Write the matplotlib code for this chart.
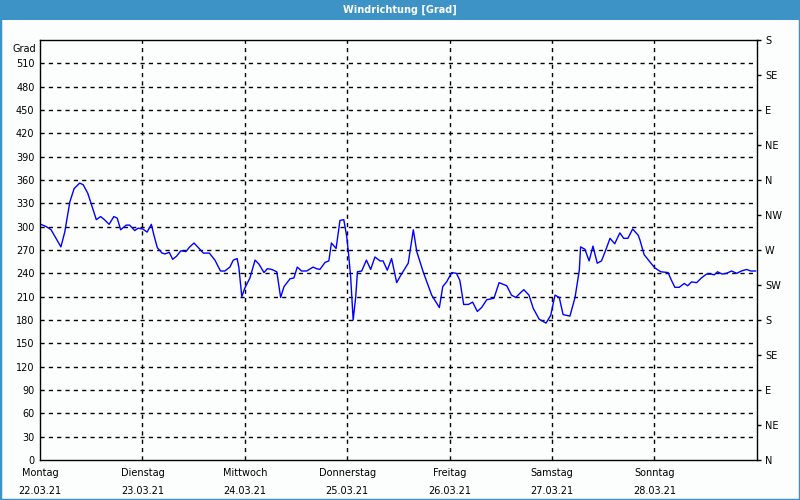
import numpy as np
import matplotlib
matplotlib.use("Agg")
import matplotlib.pyplot as plt
from matplotlib.patches import Rectangle

# ============================================
# DATA: wind direction, hours since Mon 22.03.21 00:00
# ============================================

hours = [0.2, 1.5, 2.6, 4.9, 5.8, 7.0, 8.0, 9.3, 10.1, 11.2, 13.2, 14.2, 15.1, 16.2,
         17.3, 18.1, 18.9, 20.2, 21.0, 22.2, 23.0, 24.1, 25.1, 26.1, 26.7, 27.5, 28.6,
         29.3, 30.3, 31.1, 32.0, 33.0, 34.2, 35.1, 36.1, 37.3, 38.3, 39.7, 41.0, 42.3,
         43.3, 44.5, 45.3, 46.2, 46.6, 47.3, 48.0, 49.2, 50.4, 51.3, 52.5, 53.3, 54.3,
         55.5, 56.4, 57.2, 58.6, 59.5, 60.3, 61.3, 62.5, 64.0, 64.8, 65.6, 66.8, 67.7,
         68.3, 69.4, 70.3, 71.2, 71.9, 72.3, 72.8, 73.4, 74.0, 74.4, 75.4, 76.5, 77.5,
         78.5, 79.7, 80.4, 81.4, 82.4, 83.6, 84.5, 85.5, 86.3, 87.5, 88.3, 89.8, 91.8,
         93.6, 94.4, 95.3, 96.5, 97.6, 98.4, 99.3, 100.4, 101.4, 102.5, 103.5, 104.7,
         106.4, 107.6, 109.4, 110.5, 111.5, 112.6, 113.4, 114.6, 115.6, 117.0, 118.6,
         119.7, 120.7, 121.7, 122.6, 124.2, 125.4, 126.4, 126.7, 127.7, 128.7, 129.6,
         130.6, 131.6, 132.6, 133.6, 134.7, 135.9, 136.8, 137.8, 138.9, 140.2, 140.6,
         141.6, 142.9, 144.1, 145.5, 147.2, 148.0, 148.8, 149.8, 151.0, 151.8, 152.7,
         153.9, 155.0, 156.2, 157.4, 158.0, 158.8, 159.9, 160.9, 162.1, 163.3, 164.4,
         165.6, 166.6, 167.7]

grad = [303, 300, 296, 274, 293, 332, 349, 356, 354, 343, 309, 313, 309, 303,
        313, 311, 296, 302, 302, 295, 298, 297, 293, 303, 289, 273, 266,
        265, 267, 258, 262, 269, 268, 274, 279, 272, 266, 266, 257, 243,
        243, 248, 257, 259, 248, 210, 221, 234, 257, 252, 241, 246, 245,
        242, 209, 223, 233, 234, 248, 243, 243, 248, 246, 245, 254, 256,
        279, 272, 308, 309, 287, 266, 236, 180, 210, 242, 243, 257, 245,
        261, 256, 256, 244, 259, 228, 237, 246, 253, 296, 268, 242, 212,
        196, 223, 229, 241, 240, 231, 200, 200, 203, 191, 196, 206,
        208, 228, 224, 212, 209, 215, 219, 212, 195, 181, 176,
        186, 212, 209, 187, 185, 209, 244, 274, 271, 256, 275,
        253, 256, 270, 285, 278, 292, 285, 285, 297, 289, 283,
        264, 255, 247, 242, 241, 231, 222, 222, 227, 224, 229,
        228, 234, 239, 239, 238, 242, 239, 240, 243, 240, 243,
        245, 243, 243]

day_names = ["Montag", "Dienstag", "Mittwoch", "Donnerstag", "Freitag", "Samstag", "Sonntag"]
day_dates = ["22.03.21", "23.03.21", "24.03.21", "25.03.21", "26.03.21", "27.03.21", "28.03.21"]
compass = ["N", "NE", "E", "SE", "S", "SW", "W", "NW", "N", "NE", "E", "SE", "S"]

frame_blue = "#3d93c5"
bg = "#fcfefe"
fs = 7

# ============================================
# FIGURE
# ============================================

fig = plt.figure(figsize=(8, 5), dpi=100, facecolor=bg)

# window frame + title bar
fig.patches.append(Rectangle((0, 0.96), 1, 0.04, transform=fig.transFigure,
                             facecolor=frame_blue, edgecolor="none", zorder=0))
fig.patches.append(Rectangle((0, 0), 1, 1, transform=fig.transFigure,
                             facecolor="none", edgecolor=frame_blue, lw=2.5, zorder=0))
fig.text(0.5, 0.981, "Windrichtung [Grad]", color="white", fontsize=fs,
         fontweight="bold", ha="center", va="center")

ax = fig.add_axes([0.05, 0.08, 0.896, 0.84])
ax.set_facecolor(bg)
ax.plot(hours, grad, color="#0000ff", lw=1.0)

ax.set_xlim(0, 168)
ax.set_ylim(0, 540)

# grid
for y in range(30, 540, 30):
    ax.axhline(y, color="black", lw=1, ls=(0, (3, 3)), zorder=0)
for d in range(1, 7):
    ax.axvline(d * 24, color="black", lw=1, ls=(0, (3, 3)), zorder=0)

ax.set_yticks(range(0, 540, 30))
ax.tick_params(axis="y", length=0, pad=4, labelsize=fs)
ax.set_xticks([d * 24 for d in range(7)])
ax.set_xticklabels([n + "\n" + t for n, t in zip(day_names, day_dates)],
                   fontsize=fs, linespacing=1.9)
ax.tick_params(axis="x", length=0, pad=6)
for s in ax.spines.values():
    s.set_color("black")
    s.set_linewidth(1.0)

ax.text(-0.005, 0.99, "Grad", transform=ax.transAxes, ha="right", va="top", fontsize=fs)

ax2 = ax.twinx()
ax2.set_ylim(0, 540)
ax2.set_yticks(range(0, 541, 45))
ax2.set_yticklabels(compass)
ax2.tick_params(axis="y", length=3, width=1, pad=3, labelsize=fs)
for s in ax2.spines.values():
    s.set_visible(False)

fig.savefig("out.png", dpi=100, facecolor=bg)
